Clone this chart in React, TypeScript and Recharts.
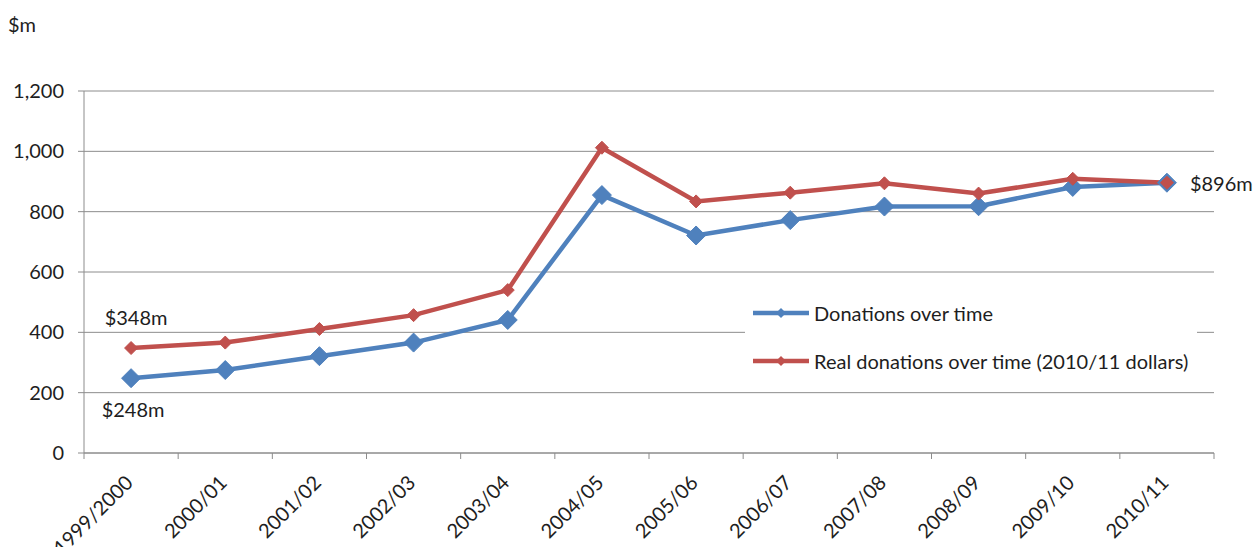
import { CartesianGrid, ComposedChart, Label, Legend, Line, XAxis, YAxis } from 'recharts';

const years = [
  '1999/2000', '2000/01', '2001/02', '2002/03', '2003/04', '2004/05',
  '2005/06', '2006/07', '2007/08', '2008/09', '2009/10', '2010/11',
];
const donations = [248, 275, 321, 366, 441, 855, 721, 772, 817, 818, 882, 896];
const realDonations = [348, 366, 411, 457, 540, 1012, 834, 863, 894, 860, 909, 896];
const yTicks = [0, 200, 400, 600, 800, 1000, 1200];

const data = years.map((year, i) => ({
  year,
  donations: donations[i],
  real: realDonations[i],
}));

const BLUE = '#4f81bd';
const RED = '#c0504d';
const GRID = '#8c8c8c';
const TEXT = '#1e1e1e';
const FONT = 'Lato, "Noto Sans", sans-serif';
const FONT_SIZE = 20;
const TICK_SIZE = 6;
const TICK_MARGIN = 2;

const money = (v: number) => `$${v}m`;

// tick marks sit between categories, labels slanted under each centre
function YearTick(props: any) {
  const { x, y, payload, index, visibleTicksCount } = props;
  const half = payload.offset ?? 47;
  const axisY = y - TICK_SIZE - TICK_MARGIN;
  return (
    <g>
      <line x1={x - half} x2={x - half} y1={axisY} y2={axisY + TICK_SIZE} stroke={GRID} />
      {index === visibleTicksCount - 1 && (
        <line x1={x + half} x2={x + half} y1={axisY} y2={axisY + TICK_SIZE} stroke={GRID} />
      )}
      <text
        transform={`translate(${x + 3},${axisY + 31}) rotate(-45)`}
        textAnchor='end'
        fill={TEXT}
        fontSize={FONT_SIZE}
        fontFamily={FONT}
      >
        {payload.value}
      </text>
    </g>
  );
}

function Diamond({ r, color }: { r: number; color: string }) {
  return (props: any) => {
    const { cx, cy, index } = props;
    if (cx == null || cy == null) return <g key={index} />;
    return (
      <polygon
        key={index}
        points={`${cx},${cy - r} ${cx + r},${cy} ${cx},${cy + r} ${cx - r},${cy}`}
        fill={color}
        stroke={color}
        strokeWidth={1}
      />
    );
  };
}

const blueDot = Diamond({ r: 9.5, color: BLUE });
const redDot = Diamond({ r: 6.5, color: RED });

const last = years.length - 1;

function DonationLabel(props: any) {
  const { x, y, value, index } = props;
  if (index === 0) {
    return (
      <text x={x + 2} y={y + 39} textAnchor='middle' fill={TEXT} fontSize={FONT_SIZE} fontFamily={FONT}>
        {money(value)}
      </text>
    );
  }
  if (index === last) {
    return (
      <text x={x + 23} y={y + 8} textAnchor='start' fill={TEXT} fontSize={FONT_SIZE} fontFamily={FONT}>
        {money(value)}
      </text>
    );
  }
  return null;
}

function RealLabel(props: any) {
  const { x, y, value, index } = props;
  if (index !== 0) return null;
  return (
    <text x={x + 5} y={y - 23} textAnchor='middle' fill={TEXT} fontSize={FONT_SIZE} fontFamily={FONT}>
      {money(value)}
    </text>
  );
}

function LegendBox({ payload }: any) {
  return (
    <div style={{ background: '#fff', width: 452, height: 80, fontFamily: FONT, fontSize: FONT_SIZE, color: TEXT }}>
      {(payload ?? []).map((item: any, i: number) => (
        <div
          key={item.value}
          style={{ display: 'flex', alignItems: 'center', height: 24, marginTop: i === 0 ? 6 : 24, paddingLeft: 8 }}
        >
          <svg width={56} height={14} style={{ marginRight: 5 }}>
            <line x1={0} x2={56} y1={7} y2={7} stroke={item.color} strokeWidth={4.5} />
            <polygon points='28,2 33,7 28,12 23,7' fill={item.color} />
          </svg>
          <span style={{ whiteSpace: 'nowrap' }}>{item.value}</span>
        </div>
      ))}
    </div>
  );
}

export default function App() {
  return (
    <div style={{ position: 'absolute', left: 0, top: 0, width: 1260, height: 547, background: '#fff' }}>
      <ComposedChart
        width={1260}
        height={547}
        data={data}
        margin={{ top: 91, right: 46, bottom: 14, left: 24 }}
        style={{ fontFamily: FONT }}
      >
        <CartesianGrid vertical={false} stroke={GRID} />
        <XAxis
          dataKey='year'
          scale='band'
          interval={0}
          height={80}
          tickSize={TICK_SIZE}
          tickMargin={TICK_MARGIN}
          tickLine={false}
          axisLine={{ stroke: GRID }}
          tick={<YearTick />}
        />
        <YAxis
          width={60}
          domain={[0, 1200]}
          ticks={yTicks}
          tickFormatter={(v: number) => v.toLocaleString('en-US')}
          tickSize={TICK_SIZE}
          tickMargin={14}
          axisLine={{ stroke: GRID }}
          tickLine={{ stroke: GRID }}
          tick={{ fill: TEXT, fontSize: FONT_SIZE, fontFamily: FONT }}
        >
          <Label
            content={({ viewBox }: any) => (
              <text x={viewBox.x - 16} y={viewBox.y - 59} fill={TEXT} fontSize={FONT_SIZE} fontFamily={FONT}>
                $m
              </text>
            )}
          />
        </YAxis>
        <Legend
          layout='horizontal'
          verticalAlign='middle'
          align='center'
          content={<LegendBox />}
          wrapperStyle={{ left: 745, top: 295, width: 452, height: 80 }}
        />
        <Line
          name='Donations over time'
          dataKey='donations'
          stroke={BLUE}
          strokeWidth={4.5}
          dot={blueDot}
          activeDot={false}
          label={<DonationLabel />}
          isAnimationActive={false}
        />
        <Line
          name='Real donations over time (2010/11 dollars)'
          dataKey='real'
          stroke={RED}
          strokeWidth={4.5}
          dot={redDot}
          activeDot={false}
          label={<RealLabel />}
          isAnimationActive={false}
        />
      </ComposedChart>
    </div>
  );
}
